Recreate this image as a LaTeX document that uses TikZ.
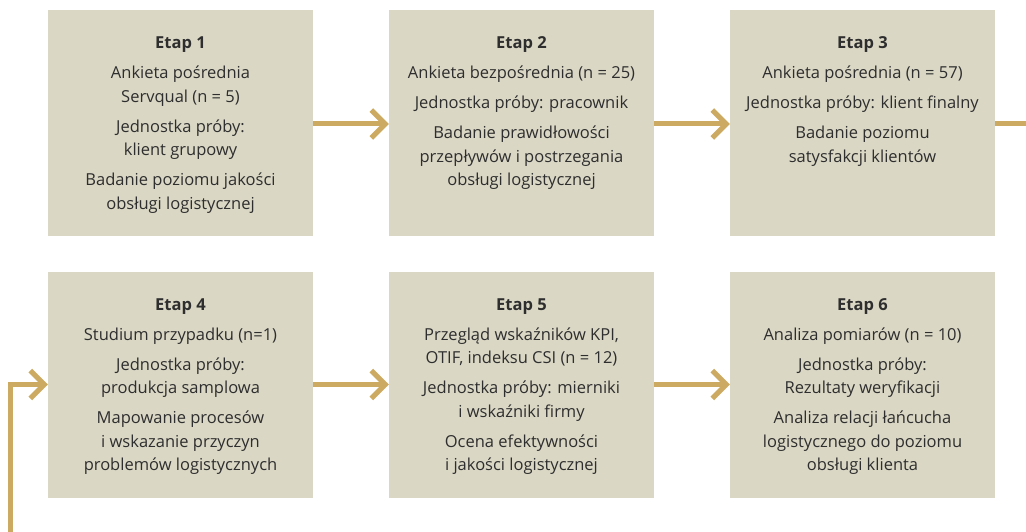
\documentclass[tikz,border=0pt]{standalone}
\usepackage{fontspec}
\setmainfont{Open Sans}
\usetikzlibrary{arrows.meta}
\definecolor{boxfill}{HTML}{DAD7C5}
\definecolor{arrcol}{HTML}{CCAA62}
\definecolor{txtcol}{HTML}{2E2E2E}
\tikzset{
  x=1pt,y=-1pt,
  box/.style={fill=boxfill,draw=none,minimum width=265pt,minimum height=226pt,inner sep=0pt},
  txt/.style={anchor=north,align=center,text=txtcol,inner sep=0pt,font=\fontsize{16.5}{23.5}\selectfont},
  arr/.style={draw=arrcol,line width=5pt,-{Straight Barb[length=14pt,width=28pt,line cap=butt,line join=miter]}},
}
\newcommand{\gp}{\\[6.5pt]}
\begin{document}
\begin{tikzpicture}
\useasboundingbox (0,0) rectangle (1026,532);
\node[box] (b1) at (180.5,123) {};
\node[box] (b2) at (521.5,123) {};
\node[box] (b3) at (862.5,123) {};
\node[box] (b4) at (180.5,384.5) {};
\node[box] (b5) at (521.5,384.5) {};
\node[box] (b6) at (862.5,384.5) {};
\node[txt] (t1) at ([yshift=-27pt]b1.north) {\textbf{Etap 1}\gp Ankieta pośrednia\\ Servqual (n = 5)\gp Jednostka próby:\\ klient grupowy\gp Badanie poziomu jakości\\ obsługi logistycznej};
\node[txt] (t2) at ([yshift=-27pt]b2.north) {\textbf{Etap 2}\gp Ankieta bezpośrednia (n = 25)\gp Jednostka próby: pracownik\gp Badanie prawidłowości\\ przepływów i postrzegania\\ obsługi logistycznej};
\node[txt] (t3) at ([yshift=-27pt]b3.north) {\textbf{Etap 3}\gp Ankieta pośrednia (n = 57)\gp Jednostka próby: klient finalny\gp Badanie poziomu\\ satysfakcji klientów};
\node[txt] (t4) at ([yshift=-27pt]b4.north) {\textbf{Etap 4}\gp Studium przypadku (n=1)\gp Jednostka próby:\\ produkcja samplowa\gp Mapowanie procesów\\ i wskazanie przyczyn\\ problemów logistycznych};
\node[txt] (t5) at ([yshift=-27pt]b5.north) {\textbf{Etap 5}\gp Przegląd wskaźników KPI,\\ OTIF, indeksu CSI (n = 12)\gp Jednostka próby: mierniki\\ i wskaźniki firmy\gp Ocena efektywności\\ i jakości logistycznej};
\node[txt] (t6) at ([yshift=-27pt]b6.north) {\textbf{Etap 6}\gp Analiza pomiarów (n = 10)\gp Jednostka próby:\\ Rezultaty weryfikacji\gp Analiza relacji łańcucha\\ logistycznego do poziomu\\ obsługi klienta};
\coordinate (out) at (1026,124);
\coordinate (inb) at (10,532);
\coordinate (inc) at (10,384.5);
\draw[arr] (b1.east |- 0,124) -- (b2.west |- 0,124);
\draw[arr] (b2.east |- 0,124) -- (b3.west |- 0,124);
\draw[draw=arrcol,line width=5pt] (b3.east |- 0,124) -- (out);
\draw[arr] (inb) -- (inc) -- (b4.west);
\draw[arr] (b4.east) -- (b5.west);
\draw[arr] (b5.east) -- (b6.west);
\end{tikzpicture}
\end{document}
